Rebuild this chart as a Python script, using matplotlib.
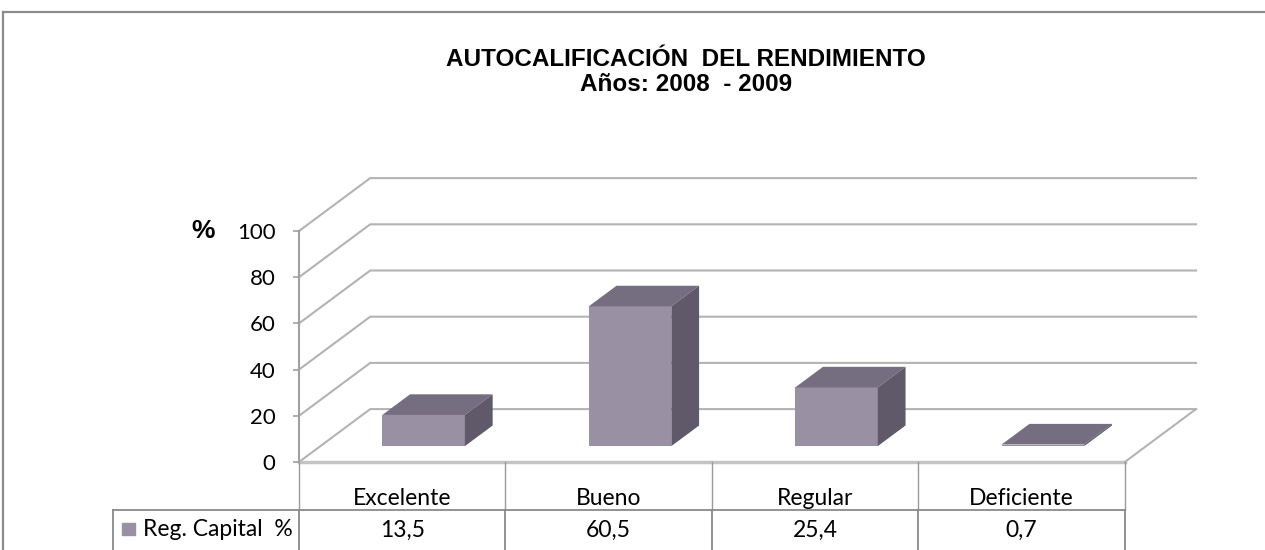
import numpy as np
from matplotlib import pyplot as plt
from matplotlib.patches import Polygon, Rectangle
from matplotlib.lines import Line2D

plt.rcParams["font.family"] = ["Lato", "DejaVu Sans"]

# data
categories = ["Excelente", "Bueno", "Regular", "Deficiente"]
values = [13.5, 60.5, 25.4, 0.7]
series_name = "Reg. Capital  %"
yticks = [0, 20, 40, 60, 80, 100]
title = "AUTOCALIFICACIÓN  DEL RENDIMIENTO\nAños: 2008  - 2009"

# pseudo 3d geometry (data units)
DX, DY = 0.345, 22.9  # depth offset of back wall
F0, F1 = 0.30, 0.69  # bar depth range as fraction of DX/DY
BW = 0.4
front_c, top_c, side_c = "#9A90A4", "#756D80", "#605969"
grid_c = "#b3b3b3"

W, H = 1265, 550
fig = plt.figure(figsize=(W / 100, H / 100), dpi=100)
ax = fig.add_axes([299 / W, (H - 462) / H, 897 / W, 283.9 / H])
ax.set_xlim(0, len(categories) + DX)
ax.set_ylim(0, 100 + DY)

# frame around the chart area
fig.add_artist(Line2D([3 / W, 1], [1 - 12 / H] * 2, color="#8c8c8c", lw=1.6))
fig.add_artist(Line2D([3 / W] * 2, [0, 1 - 12 / H], color="#8c8c8c", lw=1.6))

n = len(categories)
xend = n + DX
# back wall gridlines + left wall diagonals
for v in yticks:
    ax.plot([0, DX, xend], [v, v + DY, v + DY], color=grid_c, lw=1.5,
            zorder=1, clip_on=False)
# floor
ax.plot([0, n], [0, 0], color="#c4c4c4", lw=2.5, zorder=1, clip_on=False)
ax.plot([n, xend], [0, DY], color=grid_c, lw=1.5, zorder=1, clip_on=False)

# bars
x = np.arange(n)
x0 = x + 0.3 + F0 * DX
y0 = F0 * DY
ddx, ddy = (F1 - F0) * DX, (F1 - F0) * DY
ax.bar(x0, values, width=BW, bottom=y0, align="edge", color=front_c,
       zorder=3)
for xi, v in zip(x0, values):
    top = [(xi, y0 + v), (xi + BW, y0 + v), (xi + BW + ddx, y0 + v + ddy),
           (xi + ddx, y0 + v + ddy)]
    side = [(xi + BW, y0), (xi + BW + ddx, y0 + ddy),
            (xi + BW + ddx, y0 + ddy + v), (xi + BW, y0 + v)]
    ax.add_patch(Polygon(top, closed=True, color=top_c, zorder=3, lw=0))
    ax.add_patch(Polygon(side, closed=True, color=side_c, zorder=3, lw=0))

# y axis
for s in ["top", "right", "bottom"]:
    ax.spines[s].set_visible(False)
ax.spines["left"].set_bounds(0, 100)
ax.spines["left"].set_color("#a0a0a0")
ax.spines["left"].set_linewidth(1.5)
ax.set_yticks(yticks)
ax.tick_params(axis="y", length=4, width=1.2, color="#a0a0a0", pad=13,
               labelsize=16)
ax.set_xticks([])
fig.text(203 / W, 1 - 231 / H, "%", ha="center", va="center", fontsize=19,
         fontweight="bold", family="Liberation Sans")

# data table under the chart
hdr_y, row_y = -15.6, -29.4
row_top, leg_left = -20.8, -0.903
tc = "#9a9a9a"
for i in range(n + 1):
    ax.plot([i, i], [0, row_top], color=tc, lw=1, clip_on=False)
ax.plot([leg_left, n], [row_top, row_top], color="#8a8a8a", lw=1.3,
        clip_on=False)
for xv in [leg_left] + list(range(n + 1)):
    ax.plot([xv, xv], [row_top, -45], color="#8a8a8a", lw=1.3, clip_on=False)
for i, (c, v) in enumerate(zip(categories, values)):
    ax.text(i + 0.5, hdr_y, c, ha="center", va="center", fontsize=16.5,
            clip_on=False)
    ax.text(i + 0.5, row_y, f"{v:.1f}".replace(".", ","), ha="center",
            va="center", fontsize=16.5, clip_on=False)
ax.add_patch(Rectangle((-0.859, -31.6), 0.063, 5.2, color=front_c,
                       clip_on=False))
ax.text(-0.757, row_y, series_name, ha="left", va="center", fontsize=16.5,
        clip_on=False)

fig.text(686 / W, 1 - 72 / H, title, ha="center", va="center", fontsize=17.5,
         fontweight="bold", family="Liberation Sans", linespacing=1.1)

fig.savefig("out.png", dpi=100)
